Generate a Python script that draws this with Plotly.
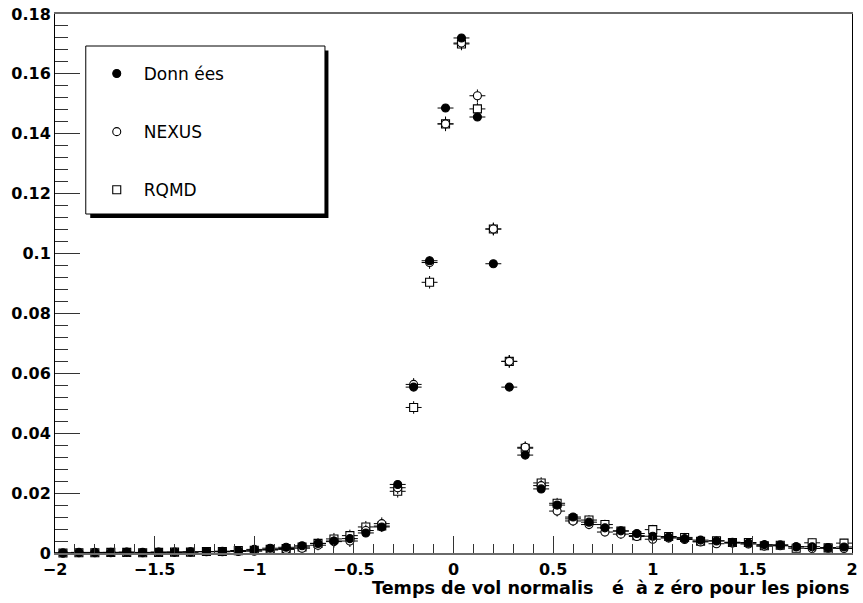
import plotly.graph_objects as go

# Bin centres of the normalised time-of-flight histogram (50 bins of 0.08)
bin_centres = [-1.96, -1.88, -1.80, -1.72, -1.64, -1.56, -1.48, -1.40, -1.32, -1.24,
               -1.16, -1.08, -1.00, -0.92, -0.84, -0.76, -0.68, -0.60, -0.52, -0.44,
               -0.36, -0.28, -0.20, -0.12, -0.04, 0.04, 0.12, 0.20, 0.28, 0.36,
               0.44, 0.52, 0.60, 0.68, 0.76, 0.84, 0.92, 1.00, 1.08, 1.16,
               1.24, 1.32, 1.40, 1.48, 1.56, 1.64, 1.72, 1.80, 1.88, 1.96]
half_bin = [0.04] * len(bin_centres)

donnees = [0.0000, 0.0002, 0.0002, 0.0002, 0.0003, 0.0002, 0.0003, 0.0003, 0.0004, 0.0005,
           0.0006, 0.0008, 0.0012, 0.0016, 0.0019, 0.0024, 0.0032, 0.0040, 0.0048, 0.0067,
           0.0087, 0.0229, 0.0554, 0.0976, 0.1486, 0.1720, 0.1456, 0.0966, 0.0554, 0.0327,
           0.0214, 0.0160, 0.0120, 0.0103, 0.0084, 0.0074, 0.0065, 0.0056, 0.0053, 0.0048,
           0.0043, 0.0040, 0.0036, 0.0033, 0.0028, 0.0027, 0.0021, 0.0021, 0.0018, 0.0020]
donnees_err = [0.0001, 0.0001, 0.0001, 0.0001, 0.0001, 0.0001, 0.0001, 0.0001, 0.0002, 0.0002,
               0.0002, 0.0002, 0.0003, 0.0003, 0.0003, 0.0004, 0.0004, 0.0005, 0.0005, 0.0006,
               0.0006, 0.0008, 0.0008, 0.0008, 0.0008, 0.0008, 0.0008, 0.0008, 0.0008, 0.0007,
               0.0006, 0.0005, 0.0005, 0.0004, 0.0004, 0.0004, 0.0004, 0.0003, 0.0003, 0.0003,
               0.0003, 0.0003, 0.0003, 0.0003, 0.0002, 0.0002, 0.0002, 0.0002, 0.0002, 0.0002]

nexus = [0.0000, 0.0001, 0.0001, 0.0001, 0.0002, 0.0001, 0.0002, 0.0002, 0.0003, 0.0004,
         0.0004, 0.0005, 0.0006, 0.0010, 0.0012, 0.0016, 0.0026, 0.0038, 0.0040, 0.0075,
         0.0098, 0.0218, 0.0563, 0.0970, 0.1433, 0.1703, 0.1527, 0.1082, 0.0640, 0.0353,
         0.0225, 0.0140, 0.0107, 0.0095, 0.0070, 0.0063, 0.0055, 0.0046, 0.0050, 0.0045,
         0.0037, 0.0031, 0.0033, 0.0030, 0.0023, 0.0024, 0.0021, 0.0015, 0.0016, 0.0015]
nexus_err = [0.0004, 0.0005, 0.0005, 0.0005, 0.0006, 0.0005, 0.0006, 0.0006, 0.0007, 0.0008,
             0.0008, 0.0009, 0.0010, 0.0012, 0.0013, 0.0015, 0.0017, 0.0020, 0.0020, 0.0020,
             0.0021, 0.0021, 0.0021, 0.0021, 0.0024, 0.0021, 0.0021, 0.0021, 0.0021, 0.0020,
             0.0019, 0.0018, 0.0017, 0.0016, 0.0015, 0.0015, 0.0015, 0.0015, 0.0015, 0.0015,
             0.0014, 0.0014, 0.0014, 0.0014, 0.0013, 0.0013, 0.0013, 0.0012, 0.0012, 0.0012]

rqmd = [0.0000, 0.0001, 0.0001, 0.0002, 0.0002, 0.0001, 0.0002, 0.0003, 0.0003, 0.0005,
        0.0005, 0.0008, 0.0009, 0.0012, 0.0015, 0.0020, 0.0032, 0.0047, 0.0058, 0.0087,
        0.0090, 0.0206, 0.0486, 0.0904, 0.1433, 0.1700, 0.1483, 0.1082, 0.0640, 0.0350,
        0.0234, 0.0166, 0.0114, 0.0110, 0.0095, 0.0073, 0.0058, 0.0078, 0.0055, 0.0052,
        0.0039, 0.0041, 0.0035, 0.0035, 0.0024, 0.0026, 0.0016, 0.0034, 0.0017, 0.0033]
rqmd_err = [0.0004, 0.0005, 0.0005, 0.0006, 0.0006, 0.0005, 0.0006, 0.0007, 0.0007, 0.0008,
            0.0008, 0.0010, 0.0010, 0.0012, 0.0013, 0.0015, 0.0017, 0.0020, 0.0020, 0.0020,
            0.0020, 0.0021, 0.0021, 0.0021, 0.0024, 0.0021, 0.0022, 0.0021, 0.0021, 0.0020,
            0.0019, 0.0018, 0.0017, 0.0016, 0.0016, 0.0015, 0.0015, 0.0016, 0.0015, 0.0015,
            0.0014, 0.0014, 0.0014, 0.0014, 0.0013, 0.0013, 0.0012, 0.0014, 0.0012, 0.0014]

x_title = "Temps de vol normalis\u00a0\u00a0\u00a0é\u00a0\u00a0à z éro pour les pions"

W, H = 863, 603
M_L, M_R, M_T, M_B = 55, 5, 14, 50
PW, PH = W - M_L - M_R, H - M_T - M_B


def px_x(p):
    return (p - M_L) / PW


def px_y(p):
    return (H - M_B - p) / PH


def series(name, y, err, symbol, fill, rank):
    return go.Scatter(
        x=bin_centres, y=y, name=name, mode="markers",
        legendgroup=name, legendrank=rank, cliponaxis=False,
        marker=dict(symbol=symbol, size=8, color=fill,
                    line=dict(color="black", width=1.1)),
        error_x=dict(type="data", array=half_bin, color="black", thickness=1, width=0),
        error_y=dict(type="data", array=err, color="black", thickness=1, width=0),
    )


fig = go.Figure()
fig.add_trace(series("RQMD", rqmd, rqmd_err, "square", "white", 3))
fig.add_trace(series("NEXUS", nexus, nexus_err, "circle", "white", 2))
fig.add_trace(series("Donn ées", donnees, donnees_err, "circle", "black", 1))

tick_font = dict(family="DejaVu Sans", size=16, color="black", weight="bold")

fig.update_xaxes(
    range=[-2, 2], showgrid=False, zeroline=False,
    showline=True, linecolor="#6a6a6a", linewidth=2, mirror=True,
    ticks="inside", ticklen=17, tickcolor="#333", tickwidth=1,
    tick0=-2, dtick=0.5, tickfont=tick_font,
    ticklabeloverflow="allow", ticklabelstandoff=1,
    minor=dict(ticks="inside", ticklen=9, dtick=0.1, tick0=-2, tickcolor="#333"),
)
fig.update_yaxes(
    range=[0, 0.18], showgrid=False, zeroline=False,
    showline=True, linecolor="black", linewidth=1, mirror=True,
    ticks="inside", ticklen=25, tickcolor="#333", tickwidth=1,
    tick0=0, dtick=0.02, tickfont=tick_font, ticklabeloverflow="allow",
    minor=dict(ticks="inside", ticklen=13, dtick=0.004, tick0=0, tickcolor="#333"),
)

# Legend frame with its drop shadow
fig.add_shape(type="rect", xref="paper", yref="paper", layer="above",
              x0=px_x(90.5), x1=px_x(330.5), y0=px_y(218), y1=px_y(50.5),
              fillcolor="black", line=dict(width=0))
fig.add_shape(type="rect", xref="paper", yref="paper", layer="above",
              x0=px_x(86), x1=px_x(327), y0=px_y(214), y1=px_y(46),
              fillcolor="white", line=dict(color="black", width=1))

fig.add_annotation(text=x_title, xref="x", x=2, xanchor="right",
                   yref="paper", y=px_y(588), yanchor="middle", showarrow=False,
                   font=dict(family="DejaVu Sans", size=17.6, color="black", weight="bold"))

fig.update_layout(
    width=W, height=H, margin=dict(l=M_L, r=M_R, t=M_T, b=M_B),
    paper_bgcolor="white", plot_bgcolor="white", showlegend=True,
    legend=dict(x=px_x(90), y=px_y(56), xanchor="left", yanchor="top",
                bgcolor="rgba(0,0,0,0)", borderwidth=0, itemwidth=44,
                tracegroupgap=33,
                font=dict(family="DejaVu Sans", size=17, color="black")),
)

fig.write_html("out.html")
